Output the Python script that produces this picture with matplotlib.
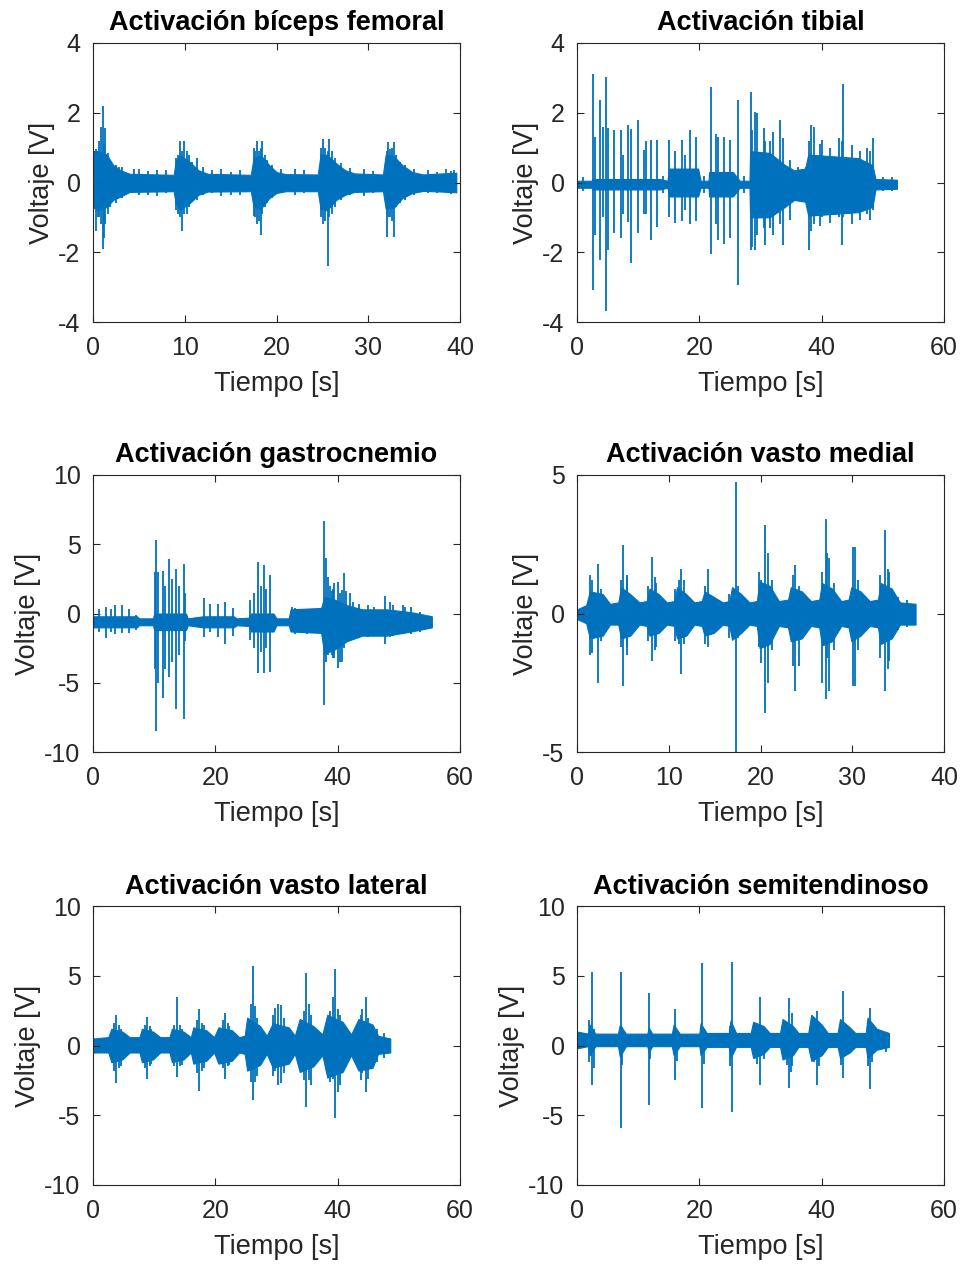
import numpy as np
import matplotlib
matplotlib.use("Agg")
import matplotlib.pyplot as plt

plt.rcParams['font.family'] = ['Liberation Sans', 'DejaVu Sans']
plt.rcParams['axes.unicode_minus'] = False

# ---- biceps femoral ----
bf_env_t = [0, 0.5, 1.5, 2.2, 3.0, 4.0, 8.8, 9.0, 9.5, 10.5, 11.5, 12.5, 17.2, 17.5, 18.3, 19.2, 20.0, 21,
            24.5, 24.8, 25.5, 26.5, 27.5, 28.5, 31.6, 31.9, 32.8, 33.7, 34.8, 36, 38, 39.6]
bf_env_hi = [0.9, 0.9, 0.8, 0.5, 0.35, 0.25, 0.22, 0.6, 0.78, 0.6, 0.35, 0.25, 0.22, 0.7, 0.78, 0.5, 0.3, 0.24,
             0.23, 0.8, 0.8, 0.55, 0.35, 0.26, 0.23, 0.8, 0.75, 0.5, 0.3, 0.23, 0.26, 0.28]
bf_env_lo = [-0.7, -0.8, -0.7, -0.5, -0.4, -0.27, -0.25, -0.6, -0.78, -0.6, -0.35, -0.26, -0.25, -0.7, -0.75,
             -0.45, -0.3, -0.25, -0.25, -0.75, -0.8, -0.5, -0.35, -0.27, -0.25, -0.75, -0.72, -0.45, -0.3,
             -0.24, -0.26, -0.28]
bf_spk_t = [0.3, 0.7, 1.05, 1.3, 1.6, 2.5, 3.2, 5.0, 7.0, 9.3, 9.5, 9.7, 9.9, 10.5, 11.3, 14.0, 16.0,
            17.7, 17.9, 18.3, 18.4, 19.0, 22.0, 24.9, 25.1, 25.6, 25.7, 26.4, 29.5, 32.0, 32.1, 32.4, 32.8, 33.5,
            36.5, 39.3,
            0.1, 0.5, 0.9, 1.15, 1.9, 2.8, 4.5, 6.0, 8.0, 9.1, 10.2, 10.8, 12.0, 13.0, 15.0, 17.6, 18.1, 18.7,
            19.5, 20.5, 23.0, 25.3, 26.0, 27.0, 28.0, 30.5, 32.6, 33.0, 34.0, 35.0, 37.5, 38.5, 39.0]
bf_spk_hi = [0.95, 1.2, 2.2, 1.55, 0.85, 0.5, 0.45, 0.4, 0.35, 0.8, 1.2, 0.9, 1.2, 0.8, 0.7, 0.4, 0.35,
             0.9, 1.2, 1.0, 1.2, 0.65, 0.38, 1.0, 1.25, 0.9, 1.25, 0.7, 0.4, 0.9, 1.15, 0.95, 1.15, 0.6, 0.35,
             0.35,
             0.9, 0.8, 1.6, 1.1, 0.6, 0.45, 0.38, 0.32, 0.35, 0.7, 0.9, 0.6, 0.45, 0.35, 0.3, 1.0, 0.9, 0.8,
             0.5, 0.4, 0.35, 1.0, 0.9, 0.55, 0.42, 0.32, 1.0, 0.8, 0.5, 0.4, 0.3, 0.38, 0.32]
bf_spk_lo = [-1.4, -1.0, -1.9, -1.2, -0.9, -0.6, -0.45, -0.35, -0.38, -0.9, -1.0, -1.4, -0.9, -0.7, -0.5, -0.4,
             -0.35, -1.0, -1.2, -1.5, -0.9, -0.6, -0.35, -1.0, -1.2, -2.4, -1.0, -0.7, -0.4, -1.55, -1.0, -1.0,
             -1.55, -0.6, -0.3, -0.2,
             -0.7, -1.0, -1.2, -1.6, -0.7, -0.4, -0.3, -0.35, -0.3, -0.8, -0.9, -0.55, -0.35, -0.3, -0.35,
             -0.95, -1.1, -0.7, -0.45, -0.3, -0.3, -1.1, -0.9, -0.5, -0.35, -0.3, -1.1, -0.7, -0.5, -0.35,
             -0.3, -0.3, -0.32]

# ---- tibial ----
ti_env_t = [0, 2.4, 2.5, 13.5, 14.8, 15.0, 19.8, 20.2, 21.5, 21.6, 25.5, 26.6, 28.2, 28.3, 31.5, 34, 35.5,
            37.3, 37.8, 42, 46, 48.3, 48.8, 52.3]
ti_env_hi = [0.05, 0.05, 0.1, 0.1, 0.05, 0.4, 0.4, 0.05, 0.05, 0.3, 0.3, 0.05, 0.05, 0.9, 0.85, 0.5, 0.35,
             0.4, 0.8, 0.75, 0.7, 0.5, 0.1, 0.08]
ti_env_lo = [-0.15, -0.15, -0.2, -0.2, -0.15, -0.4, -0.4, -0.15, -0.15, -0.4, -0.4, -0.15, -0.15, -1.0, -1.0,
             -0.7, -0.5, -0.55, -0.95, -0.9, -0.85, -0.7, -0.2, -0.18]
ti_spk_t = [2.67, 3.0, 3.76, 4.2, 4.74, 5.1, 6.1, 7.2, 7.6, 8.4, 8.8, 9.9, 11.0, 11.3, 12.1, 13.0,
            15.1, 16.0, 17.2, 17.7, 18.5, 19.5, 21.9, 22.8, 23.1, 24.1, 25.0, 26.4,
            28.4, 28.6, 29.1, 29.4, 30.5, 30.8, 31.5, 32.1, 33.2, 33.7, 34.8, 36.1, 37.5, 38.0, 38.3, 38.7,
            39.8, 40.0, 41.4, 42.8, 43.4, 43.5, 45.0, 46.2, 47.4, 47.9, 48.4,
            1.0, 14.0, 20.7, 27.3, 50.0, 51.5]
ti_spk_hi = [3.1, 1.3, 2.36, 1.6, 3.03, 1.55, 1.5, 1.5, 0.8, 1.64, 1.52, 1.79, 0.93, 1.2, 1.21, 1.21,
             1.21, 0.9, 1.21, 0.8, 1.5, 1.3, 2.74, 1.4, 1.3, 1.31, 1.21, 2.36,
             2.6, 1.5, 2.03, 2.0, 1.56, 1.2, 1.2, 1.46, 1.8, 1.27, 0.64, 0.45, 0.45, 1.2, 1.65, 1.6,
             1.1, 1.22, 0.98, 1.27, 1.2, 2.82, 1.07, 0.9, 0.98, 0.9, 1.27,
             0.15, 0.2, 0.2, 0.2, 0.15, 0.15]
ti_spk_lo = [-3.07, -1.5, -2.23, -1.0, -3.68, -1.94, -1.46, -1.6, -0.9, -1.13, -2.32, -1.46, -0.89, -0.9,
             -1.65, -1.27, -0.98, -1.15, -1.1, -0.8, -1.2, -1.1, -2.04, -1.2, -1.65, -1.75, -1.6, -2.94,
             -1.94, -1.84, -1.94, -1.5, -1.3, -1.8, -1.3, -1.5, -1.2, -1.8, -1.07, -0.5, -0.6, -1.94, -1.4,
             -1.2, -1.26, -1.0, -1.17, -1.0, -1.8, -1.0, -1.2, -1.07, -0.9, -1.07, -0.8,
             -0.25, -0.3, -0.3, -0.3, -0.25, -0.25]

# ---- gastrocnemio ----
ga_env_t = [0, 7.2, 7.5, 9.8, 10.0, 15.2, 15.5, 18, 23, 23.5, 25.5, 25.8, 29.5, 30.0, 32.0, 32.3, 37.3,
            37.8, 39.5, 41.5, 44, 48, 52, 55.4]
ga_env_hi = [-0.2, -0.2, -0.35, -0.35, 0.0, 0.0, -0.35, -0.2, -0.2, -0.35, -0.3, 0.0, 0.0, -0.35, -0.35, 0.3,
             0.4, 1.2, 1.0, 0.6, 0.3, 0.3, 0.1, -0.2]
ga_env_lo = [-1.0, -1.0, -0.85, -0.85, -1.2, -1.2, -0.85, -1.0, -1.0, -0.85, -0.9, -1.3, -1.3, -0.85, -0.85,
             -1.3, -1.4, -2.9, -2.6, -2.0, -1.6, -1.6, -1.3, -1.0]
ga_spk_t = [1.0, 2.2, 3.0, 3.6, 4.8, 5.9, 7.0, 10.1, 10.3, 10.6, 11.4, 11.8, 12.5, 12.9, 13.6, 14.0, 14.8, 15.1,
            18.2, 19.2, 20.4, 21.6, 22.9, 25.6, 26.3, 27.0, 27.4, 27.95, 28.3, 29.0, 33.0, 35.0,
            37.8, 38.1, 38.5, 39.4, 40.7, 42.0, 47.8, 49.0, 50.7, 52.0, 53.5,
            32.5, 34.0, 36.0, 38.8, 39.0, 39.2, 40.0, 40.4, 41.0, 41.4, 42.5, 43.5, 45.0, 46.0, 48.5, 51.0]
ga_spk_hi = [0.3, 0.5, 0.3, 0.6, 0.6, 0.3, -0.1, 3.0, 5.3, 3.0, 3.1, 2.0, 3.9, 2.5, 3.2, 2.0, 3.6, 1.5,
             1.1, 0.7, 0.7, 0.8, 0.4, 1.0, 1.5, 3.7, 2.0, 3.5, 1.8, 2.8, 0.4, 0.3,
             6.7, 4.0, 2.6, 2.2, 1.7, 1.5, 1.25, 0.6, 0.6, 0.5, 0.1,
             0.5, 0.3, 0.3, 2.0, 1.6, 1.8, 2.3, 1.5, 2.9, 1.6, 0.8, 0.7, 0.6, 0.5, 0.8, 0.5]
ga_spk_lo = [-1.3, -1.8, -1.3, -1.5, -1.4, -1.4, -1.2, -4.0, -8.5, -5.0, -6.1, -4.0, -4.6, -3.5, -6.9, -3.0,
             -7.65, -2.0, -1.7, -1.3, -1.7, -2.2, -1.6, -1.9, -2.5, -4.3, -2.8, -4.3, -2.5, -4.2, -1.5, -1.5,
             -6.6, -3.5, -3.0, -3.2, -3.5, -2.0, -2.2, -1.6, -1.5, -1.5, -1.3,
             -1.2, -1.3, -1.2, -2.8, -3.0, -3.2, -3.9, -3.5, -2.5, -1.8, -1.7, -1.8, -1.7, -1.5, -1.7, -1.4]

# ---- vasto medial ----
vm_env_t = [0, 1.0, 1.4, 2.8, 3.6, 4.5, 4.8, 5.8, 6.8, 7.6, 7.9, 8.9, 9.8, 10.6, 10.9, 11.9, 12.8, 13.6, 13.9,
            14.9, 15.9, 16.6, 16.9, 17.9, 18.8, 19.6, 19.9, 21.0, 22.0, 23.0, 23.3, 24.5, 25.5, 26.4, 26.7,
            27.8, 28.8, 29.6, 29.9, 30.9, 31.9, 32.8, 33.1, 34.3, 35.2, 36.9]
vm_env_hi = [0.15, 0.3, 0.8, 0.7, 0.35, 0.4, 0.95, 0.7, 0.4, 0.45, 0.9, 0.7, 0.4, 0.45, 0.95, 0.7, 0.4, 0.45, 0.8,
             0.6, 0.4, 0.45, 0.95, 0.7, 0.4, 0.45, 1.15, 1.0, 0.45, 0.5, 0.95, 0.8, 0.45, 0.5, 1.1,
             0.9, 0.45, 0.5, 0.95, 0.8, 0.45, 0.5, 1.1, 0.9, 0.4, 0.35]
vm_env_lo = [-0.2, -0.35, -0.9, -0.8, -0.4, -0.4, -0.9, -0.8, -0.4, -0.45, -0.8, -0.7, -0.4, -0.45, -0.9, -0.8,
             -0.4, -0.45, -0.8, -0.7, -0.4, -0.45, -0.95, -0.7, -0.4, -0.45, -1.25, -1.1, -0.45, -0.5, -1.0,
             -0.9, -0.45, -0.5, -1.15, -1.0, -0.45, -0.5, -1.0, -0.8, -0.45, -0.5, -1.1, -0.9, -0.4, -0.4]
vm_spk_t = [1.6, 2.25, 2.6, 5.05, 5.4, 8.2, 8.5, 11.35, 11.7, 14.3, 17.35, 17.6, 20.5, 20.8, 23.8, 24.2,
            27.1, 27.5, 30.3, 30.6, 33.6, 33.9,
            1.4, 4.8, 5.5, 7.7, 8.6, 10.7, 11.1, 14.0, 16.6, 19.8, 20.0, 21.3, 23.5, 26.7, 27.3, 28.0, 30.1,
            33.0, 34.0, 35.0, 36.0]
vm_spk_hi = [1.2, 1.8, 0.9, 2.47, 1.4, 2.05, 1.3, 1.6, 1.2, 1.6, 4.75, 1.0, 3.2, 2.2, 1.75, 1.0,
             3.4, 2.0, 2.4, 1.2, 3.0, 1.6,
             1.39, 1.2, 1.3, 1.0, 1.1, 0.9, 1.2, 1.0, 0.7, 1.5, 1.2, 1.2, 1.4, 1.5, 2.2, 1.1, 2.4,
             1.4, 1.5, 0.6, 0.5]
vm_spk_lo = [-1.44, -2.5, -1.0, -2.6, -1.5, -1.7, -1.3, -2.2, -1.1, -1.2, -5.5, -0.9, -3.6, -2.5, -2.8, -1.9,
             -3.1, -2.8, -2.6, -1.3, -2.8, -2.0,
             -1.5, -1.2, -1.2, -1.0, -1.2, -1.0, -1.1, -1.1, -0.9, -1.2, -1.8, -1.3, -1.9, -2.5, -1.6, -1.3,
             -2.6, -1.6, -1.7, -0.6, -0.5]

# ---- vasto lateral ----
vl_env_t = [0, 2.5, 3.0, 4.8, 6.0, 7.6, 8.0, 9.8, 11.0, 12.5, 12.9, 14.8, 16.0, 16.4, 18.5, 19.8, 20.5, 22.7,
            23.9, 24.8, 25.2, 27.3, 28.4, 29.4, 32.0, 33.0, 33.8, 36.0, 37.5, 38.3, 40.8, 42.2, 43.4, 45.7,
            46.6, 48.6]
vl_env_hi = [0.5, 0.6, 1.2, 1.0, 0.6, 0.6, 1.2, 1.0, 0.6, 0.6, 1.2, 1.0, 0.6, 1.3, 1.1, 0.6, 1.3, 1.1,
             0.6, 0.7, 2.0, 1.4, 0.7, 1.6, 1.3, 0.7, 1.9, 1.4, 0.8, 2.2, 1.7, 0.8, 1.9, 1.5, 0.7, 0.5]
vl_env_lo = [-0.5, -0.5, -1.2, -1.0, -0.5, -0.5, -1.2, -1.0, -0.5, -0.5, -1.2, -1.0, -0.5, -1.3, -1.1, -0.5,
             -1.3, -1.1, -0.5, -0.6, -1.8, -1.4, -0.6, -1.6, -1.3, -0.6, -1.9, -1.5, -0.7, -2.3, -1.9, -0.7,
             -1.8, -1.6, -0.6, -0.5]
vl_spk_t = [3.8, 4.3, 8.8, 9.4, 13.7, 14.2, 17.4, 17.9, 21.6, 22.0, 26.1, 26.5, 29.8, 30.2, 30.8,
            34.9, 35.3, 39.2, 39.6, 40.0, 44.0, 44.6,
            3.5, 4.5, 8.5, 9.5, 13.2, 14.5, 17.0, 18.2, 21.2, 22.3, 25.8, 26.8, 29.5, 31.3, 34.5, 35.6, 38.8,
            40.4, 43.8, 45.0, 46.5, 47.5]
vl_spk_hi = [2.2, 1.5, 2.05, 1.4, 3.5, 1.5, 2.6, 1.6, 2.3, 1.6, 5.7, 2.8, 2.7, 3.0, 2.9,
             5.2, 3.0, 3.5, 5.45, 2.6, 2.6, 3.5,
             1.6, 1.2, 1.5, 1.2, 1.5, 1.2, 1.8, 1.5, 1.8, 1.4, 3.0, 2.0, 2.2, 2.0, 2.5, 2.2, 2.5,
             2.2, 2.2, 2.0, 1.2, 0.9]
vl_spk_lo = [-2.7, -1.6, -2.4, -1.5, -2.25, -1.5, -3.25, -1.8, -2.4, -1.5, -3.9, -2.6, -1.8, -2.85, -2.7,
             -4.4, -2.5, -2.4, -5.2, -3.3, -2.0, -3.3,
             -1.8, -1.5, -1.6, -1.3, -1.5, -1.4, -2.0, -1.6, -1.6, -1.4, -2.6, -2.2, -2.2, -2.0, -2.5, -2.8,
             -2.6, -2.8, -2.5, -2.4, -1.2, -0.9]

# ---- semitendinoso ----
st_env_t = [0, 1.8, 2.1, 3.0, 6.7, 7.0, 8.0, 11.5, 11.7, 12.3, 15.5, 15.8, 16.8, 20.0, 20.2, 21.2, 24.8, 25.1,
            26.0, 28.4, 28.8, 30.5, 31.5, 33.2, 33.6, 35.3, 36.2, 37.8, 38.3, 40.0, 41.0, 42.6, 43.0, 44.6,
            45.5, 47.2, 47.5, 49.0, 51.0]
st_env_hi = [1.0, 0.85, 1.5, 0.85, 0.85, 1.5, 0.85, 0.85, 1.3, 0.85, 0.85, 1.5, 0.85, 0.85, 1.6, 0.9, 0.9, 1.8,
             0.9, 0.9, 1.7, 1.4, 0.9, 0.9, 1.9, 1.4, 0.9, 0.9, 2.2, 1.5, 0.9, 0.9, 1.9, 1.3, 0.9, 0.9, 2.0,
             1.2, 0.9]
st_env_lo = [-0.2, -0.05, -0.7, -0.05, -0.05, -0.8, -0.05, -0.05, -0.5, -0.05, -0.05, -0.7, -0.05, -0.05, -0.7,
             -0.1, -0.1, -0.9, -0.1, -0.1, -0.9, -0.6, -0.1, -0.1, -1.0, -0.7, -0.1, -0.1, -1.1, -0.7, -0.1,
             -0.1, -0.9, -0.5, -0.1, -0.1, -0.9, -0.3, -0.1]
st_spk_t = [2.0, 2.4, 7.2, 11.8, 16.1, 20.5, 25.3, 29.9, 34.7, 35.2, 39.3, 43.5, 47.9,
            2.7, 7.4, 12.0, 16.3, 20.8, 25.0, 29.5, 30.5, 34.4, 35.0, 38.8, 39.6, 43.2, 47.6, 48.3, 50.5]
st_spk_hi = [1.8, 5.3, 5.25, 3.75, 2.6, 5.9, 5.95, 3.5, 3.4, 2.3, 2.5, 3.9, 2.7,
             1.2, 1.3, 0.9, 1.0, 1.2, 1.4, 1.4, 1.2, 1.5, 1.0, 1.6, 1.3, 1.5, 1.5, 1.2, 0.9]
st_spk_lo = [-1.2, -2.8, -5.9, -4.3, -2.5, -4.5, -4.8, -2.8, -3.05, -1.5, -2.8, -2.35, -3.1,
             -1.6, -1.4, -1.0, -1.1, -1.3, -1.5, -1.3, -1.0, -1.4, -1.9, -1.2, -1.5, -1.4, -1.5, -1.2, -0.5]

titles = ['Activación bíceps femoral', 'Activación tibial', 'Activación gastrocnemio',
          'Activación vasto medial', 'Activación vasto lateral', 'Activación semitendinoso']

panels = [
    (bf_env_t, bf_env_hi, bf_env_lo, bf_spk_t, bf_spk_hi, bf_spk_lo, (0, 40), [0, 10, 20, 30, 40], (-4, 4), [-4, -2, 0, 2, 4]),
    (ti_env_t, ti_env_hi, ti_env_lo, ti_spk_t, ti_spk_hi, ti_spk_lo, (0, 60), [0, 20, 40, 60], (-4, 4), [-4, -2, 0, 2, 4]),
    (ga_env_t, ga_env_hi, ga_env_lo, ga_spk_t, ga_spk_hi, ga_spk_lo, (0, 60), [0, 20, 40, 60], (-10, 10), [-10, -5, 0, 5, 10]),
    (vm_env_t, vm_env_hi, vm_env_lo, vm_spk_t, vm_spk_hi, vm_spk_lo, (0, 40), [0, 10, 20, 30, 40], (-5, 5), [-5, 0, 5]),
    (vl_env_t, vl_env_hi, vl_env_lo, vl_spk_t, vl_spk_hi, vl_spk_lo, (0, 60), [0, 20, 40, 60], (-10, 10), [-10, -5, 0, 5, 10]),
    (st_env_t, st_env_hi, st_env_lo, st_spk_t, st_spk_hi, st_spk_lo, (0, 60), [0, 20, 40, 60], (-10, 10), [-10, -5, 0, 5, 10]),
]

blue = '#0072BD'
W, H = 963, 1267
fig = plt.figure(figsize=(W / 100, H / 100), dpi=100)
fig.patch.set_facecolor('white')

lefts = [93, 577]
rows = [(43, 322), (475, 752), (906, 1185)]

for i, (et, ehi, elo, st, shi, slo, xl, xt, yl, yt) in enumerate(panels):
    x0 = lefts[i % 2]
    top, bot = rows[i // 2]
    ax = fig.add_axes([x0 / W, 1 - bot / H, 367 / W, (bot - top) / H])
    ax.fill_between(et, elo, ehi, color=blue, lw=0.8, edgecolor=blue)
    ax.vlines(st, slo, shi, color=blue, lw=1.3)
    ax.set_xlim(*xl)
    ax.set_ylim(*yl)
    ax.set_xticks(xt)
    ax.set_yticks(yt)
    ax.set_title(titles[i], fontsize=19.5, fontweight='bold', pad=9)
    ax.set_xlabel('Tiempo [s]', fontsize=19.5, color='#262626', labelpad=8)
    ax.set_ylabel('Voltaje [V]', fontsize=19.5, color='#262626', labelpad=2)
    ax.tick_params(direction='in', top=True, right=True, labelsize=18, colors='#262626', length=5)
    ax.tick_params(axis='x', pad=10)
    ax.tick_params(axis='y', pad=9)
    for s in ax.spines.values():
        s.set_color('#262626')
        s.set_linewidth(0.8)

fig.savefig('out.png', dpi=100)
